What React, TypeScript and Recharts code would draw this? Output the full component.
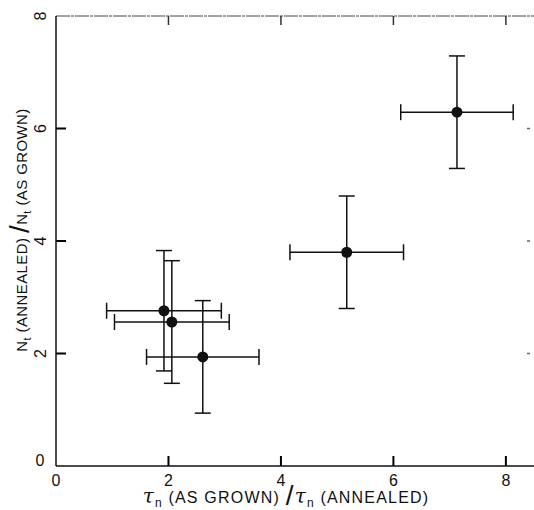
import { ErrorBar, Scatter, ScatterChart, XAxis, YAxis } from 'recharts'

// ratio of lifetimes (x) vs ratio of trap densities (y)
const tauRatio = [7.13, 5.17, 1.92, 2.06, 2.61]
const trapRatio = [6.29, 3.8, 2.76, 2.56, 1.94]
const tauErr = [1.0, 1.01, 1.02, 1.02, 1.0]
const trapErr = [1.0, 1.0, 1.07, 1.09, 1.0]

const xTicks = [0, 2, 4, 6, 8]
const yTicks = [0, 2, 4, 6, 8]
const X_MAX = 8.5
const Y_MAX = 8

const data = tauRatio.map((x, i) => ({ x, y: trapRatio[i], ex: tauErr[i], ey: trapErr[i] }))

// inward tick marks, placed through the chart scales
const bottomMarks = xTicks.filter((v) => v > 0).map((x) => ({ x, y: 0 }))
const topMarks = xTicks.filter((v) => v > 0).map((x) => ({ x, y: Y_MAX }))
const leftMarks = yTicks.filter((v) => v > 0 && v < Y_MAX).map((y) => ({ x: 0, y }))
const rightMarks = yTicks.filter((v) => v > 0 && v < Y_MAX).map((y) => ({ x: X_MAX, y }))

const FONT = '"Liberation Sans", Arial, sans-serif'
const INK = '#111'

function BottomTick(props: any) {
  const { x, y, payload } = props
  return (
    <text x={x} y={y + 18} textAnchor="middle" fontSize={16} fontFamily={FONT} fill={INK}>
      {payload.value}
    </text>
  )
}

function LeftTick(props: any) {
  const { x, y, payload } = props
  const v = payload.value
  const tx = x - 14
  return (
    <text
      x={tx}
      y={v === 0 ? y - 6 : y}
      textAnchor="middle"
      dominantBaseline="central"
      fontSize={16}
      fontFamily={FONT}
      fill={INK}
      transform={v === 0 ? undefined : `rotate(-90 ${tx} ${y})`}
    >
      {v}
    </text>
  )
}

function UpMark(props: any) {
  const { cx, cy } = props
  return <rect x={cx - 1} y={cy - 10} width={2} height={10} fill="#000" />
}

function DownMark(props: any) {
  const { cx, cy } = props
  return <rect x={cx - 0.75} y={cy} width={1.5} height={9} fill="#333" />
}

function RightMark(props: any) {
  const { cx, cy } = props
  return <rect x={cx} y={cy - 1} width={10} height={2} fill="#000" />
}

function LeftMark(props: any) {
  const { cx, cy } = props
  return <rect x={cx - 7} y={cy - 0.75} width={3} height={1.5} fill="#666" />
}

function Dot(props: any) {
  const { cx, cy } = props
  return <circle cx={cx} cy={cy} r={5.5} fill={INK} />
}

export default function App() {
  return (
    <div style={{ position: 'absolute', left: 0, top: 0, background: '#fff' }}>
      <ScatterChart width={534} height={510} margin={{ top: 15, right: 0, bottom: 0, left: 0 }}>
        <XAxis
          xAxisId="b"
          type="number"
          dataKey="x"
          domain={[0, X_MAX]}
          ticks={xTicks}
          height={44}
          tickSize={0}
          tickLine={false}
          axisLine={{ stroke: INK, strokeWidth: 1.5 }}
          tick={<BottomTick />}
        />
        <XAxis
          xAxisId="t"
          orientation="top"
          type="number"
          dataKey="x"
          domain={[0, X_MAX]}
          ticks={xTicks}
          height={1}
          tickSize={0}
          tickLine={false}
          axisLine={{ stroke: '#444', strokeWidth: 1, strokeDasharray: '14 1 3 1' }}
          tick={false}
        />
        <YAxis
          yAxisId="l"
          type="number"
          dataKey="y"
          domain={[0, Y_MAX]}
          ticks={yTicks}
          width={56}
          tickSize={0}
          tickLine={false}
          axisLine={{ stroke: INK, strokeWidth: 1.5 }}
          tick={<LeftTick />}
        />
        <Scatter data={bottomMarks} xAxisId="b" yAxisId="l" shape={<UpMark />} isAnimationActive={false} />
        <Scatter data={topMarks} xAxisId="b" yAxisId="l" shape={<DownMark />} isAnimationActive={false} />
        <Scatter data={leftMarks} xAxisId="b" yAxisId="l" shape={<RightMark />} isAnimationActive={false} />
        <Scatter data={rightMarks} xAxisId="b" yAxisId="l" shape={<LeftMark />} isAnimationActive={false} />
        <Scatter data={data} xAxisId="b" yAxisId="l" shape={<Dot />} isAnimationActive={false}>
          <ErrorBar dataKey="ex" direction="x" width={8} stroke={INK} strokeWidth={1.5} isAnimationActive={false} />
          <ErrorBar dataKey="ey" direction="y" width={8} stroke={INK} strokeWidth={1.5} isAnimationActive={false} />
        </Scatter>
        <text x={286} y={503} textAnchor="middle" fontSize={16} fontFamily={FONT} letterSpacing={1.2} fill={INK}>
          <tspan fontSize={20} fontFamily="'DejaVu Serif', serif" fontStyle="italic">τ</tspan>
          <tspan fontSize={12} dy={4}>n</tspan>
          <tspan dy={-4}> (AS GROWN) </tspan>
          <tspan fontSize={28} dy={2}>/</tspan>
          <tspan fontSize={20} dy={-2} fontFamily="'DejaVu Serif', serif" fontStyle="italic">τ</tspan>
          <tspan fontSize={12} dy={4}>n</tspan>
          <tspan dy={-4}> (ANNEALED)</tspan>
        </text>
        <text
          x={27}
          y={230}
          textAnchor="middle"
          fontSize={15}
          fontFamily={FONT}
          letterSpacing={0.4}
          fill={INK}
          transform="rotate(-90 27 230)"
        >
          <tspan>N</tspan>
          <tspan fontSize={11} dy={4}>t</tspan>
          <tspan dy={-4}> (ANNEALED) </tspan>
          <tspan fontSize={28} dy={2}>/</tspan>
          <tspan dy={-2}>N</tspan>
          <tspan fontSize={11} dy={4}>t</tspan>
          <tspan dy={-4}> (AS GROWN)</tspan>
        </text>
      </ScatterChart>
    </div>
  )
}
